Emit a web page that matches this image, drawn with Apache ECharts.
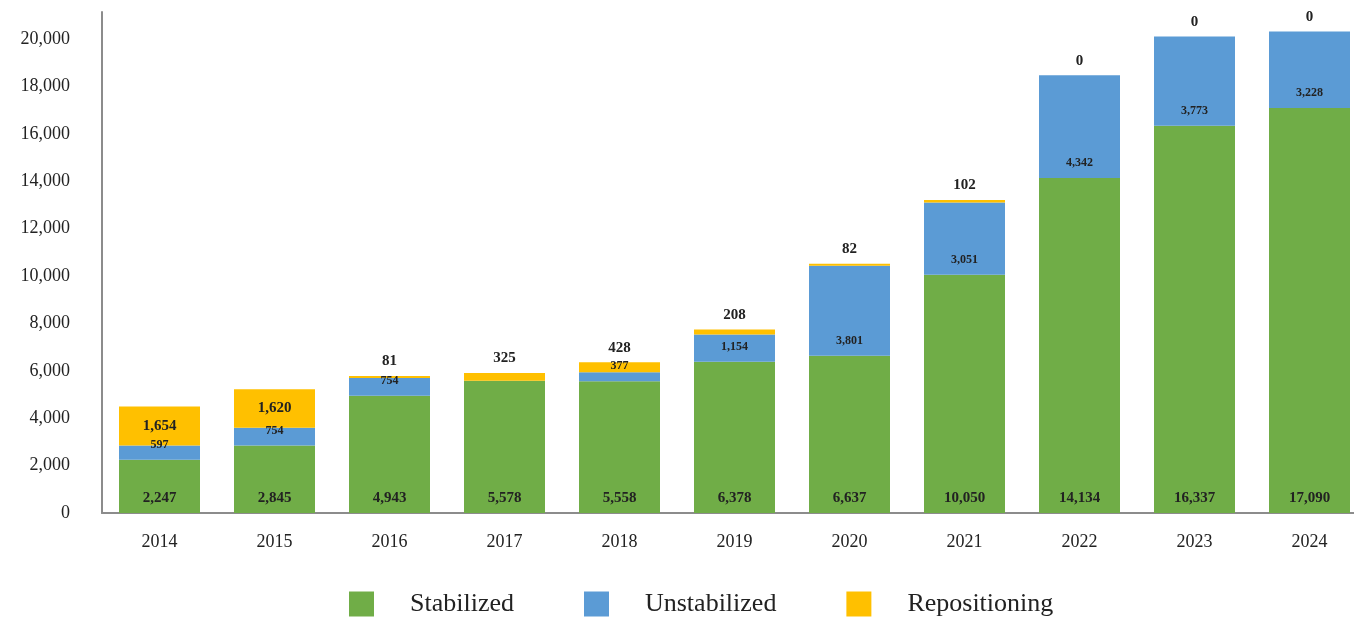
<!DOCTYPE html>
<html>
<head>
<meta charset="utf-8">
<script src="https://cdn.jsdelivr.net/npm/echarts@6/dist/echarts.min.js"></script>
<style>
html,body{margin:0;padding:0;background:#fff;overflow:hidden;width:1354px;height:617px;}
#chart{width:1372px;height:617px;}
</style>
</head>
<body>
<div id="chart"></div>
<script>
var years = ['2014','2015','2016','2017','2018','2019','2020','2021','2022','2023','2024'];
var stabilized = [2247, 2845, 4943, 5578, 5558, 6378, 6637, 10050, 14134, 16337, 17090];
var unstabilized = [597, 754, 754, 0, 377, 1154, 3801, 3051, 4342, 3773, 3228];
var repositioning = [1654, 1620, 81, 325, 428, 208, 82, 102, 0, 0, 0];

var FONT = '"Liberation Serif", "Times New Roman", serif';
function fmt(v){ return Number(v).toLocaleString('en-US'); }

var repoData = repositioning.map(function(v){
  return {
    value: v,
    label: v >= 1000 ? {position:'inside', distance:0} : {position:'top', distance:7}
  };
});

var chart = echarts.init(document.getElementById('chart'));
chart.setOption({
  animation: false,
  backgroundColor: '#fff',
  grid: {left: 102, top: 12, width: 1265, bottom: 104, containLabel: false},
  legend: {
    left: 349, top: 591, padding: 0,
    itemWidth: 25, itemHeight: 25, itemGap: 70,
    icon: 'rect',
    textStyle: {fontFamily: FONT, fontSize: 26, color: '#222', padding: [0,0,0,31]},
    data: ['Stabilized','Unstabilized','Repositioning']
  },
  xAxis: {
    type: 'category',
    data: years,
    axisLine: {lineStyle: {color: '#8c8c8c', width: 2}},
    axisTick: {show: false},
    axisLabel: {fontFamily: FONT, fontSize: 18, color: '#222', margin: 20}
  },
  yAxis: {
    type: 'value',
    min: 0, max: 21140, interval: 2000,
    splitLine: {show: false},
    axisLine: {show: true, lineStyle: {color: '#8c8c8c', width: 2}},
    axisTick: {show: false},
    axisLabel: {fontFamily: FONT, fontSize: 18, color: '#222', margin: 32, showMaxLabel: false,
      formatter: function(v){ return fmt(v); }}
  },
  series: [
    {
      name: 'Stabilized', type: 'bar', stack: 'a', barWidth: 81,
      itemStyle: {color: '#70AD47'},
      data: stabilized,
      label: {show: true, position: 'insideBottom', distance: 7, fontFamily: FONT, fontSize: 15,
        fontWeight: 'bold', color: '#222', formatter: function(p){ return fmt(p.value); }}
    },
    {
      name: 'Unstabilized', type: 'bar', stack: 'a', barWidth: 81,
      itemStyle: {color: '#5B9BD5'},
      data: unstabilized,
      label: {show: true, position: 'insideBottom', distance: 9, fontFamily: FONT, fontSize: 12,
        fontWeight: 'bold', color: '#222', formatter: function(p){ return p.value ? fmt(p.value) : ''; }}
    },
    {
      name: 'Repositioning', type: 'bar', stack: 'a', barWidth: 81,
      itemStyle: {color: '#FFC000'},
      data: repoData,
      label: {show: true, fontFamily: FONT, fontSize: 15,
        fontWeight: 'bold', color: '#222', formatter: function(p){ return fmt(p.value); }}
    }
  ]
});
</script>
</body>
</html>
